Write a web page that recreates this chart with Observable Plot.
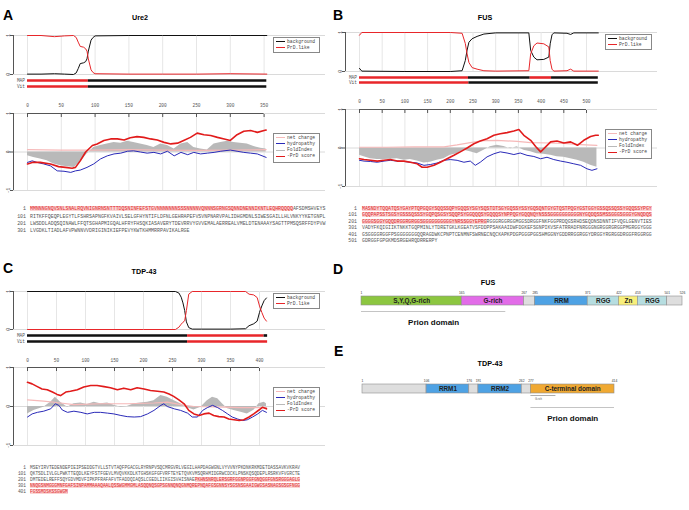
<!DOCTYPE html>
<html><head><meta charset="utf-8">
<script src="https://cdn.jsdelivr.net/npm/d3@7"></script>
<script src="https://cdn.jsdelivr.net/npm/@observablehq/plot@0.6"></script>
<style>
html,body{margin:0;padding:0;background:#fff;}
#root{position:relative;width:689px;height:510px;overflow:hidden;background:#fff;}
.seq{position:absolute;white-space:pre;font-family:"Liberation Mono","DejaVu Sans Mono",monospace;color:#555;}
.seq .core{color:#e02a2a;background:#fbd3d3;}
.lg{position:absolute;border:1px solid #888;background:#fff;box-sizing:border-box;}
.lg .t{position:absolute;white-space:pre;font-family:"Liberation Mono","DejaVu Sans Mono",monospace;color:#444;}
.lg .s{position:absolute;}
</style></head>
<body><div id="root"></div>
<script>
// ---------------- DATA ----------------
// Ure2
const ure2Seq = "MMNNNGNQVSNLSNALRQVNIGNRNSNTTTDQSNINFEFSTGVNNNNNNNSSSNNNNVQNNNSGRNGSQNNDNENNIKNTLEQHRQQQQAFSDMSHVEYSRITKFFQEQPLEGYTLFSHRSAPNGFKVAIVLSELGFHYNTIFLDFNLGEHRAPEFVSVNPNARVPALIDHGMDNLSIWESGAILLHLVNKYYKETGNPLLWSDDLADQSQINAWLFFQTSGHAPMIGQALHFRYFHSQKIASAVERYTDEVRRVYGVVEMALAERREALVMELDTENAAAYSAGTTPMSQSRFFDYPVWLVGDKLTIADLAFVPWNNVVDRIGINIKIEFPEVYKWTKHMMRRPAVIKALRGE";
const ure2Core = [1, 89];
const ure2Ticks = [0, 50, 100, 150, 200, 250, 300, 350];
const ure2TopPos = [0, 20, 40, 55, 68, 72, 75, 78, 83, 86, 88, 90, 94, 97, 100, 150, 200, 250, 300, 354];
const ure2PrdLike = [1, 1, 0.97, 0.99, 1, 0.95, 0.83, 0.72, 0.7, 0.66, 0.6, 0.4, 0.12, 0.05, 0.02, 0.01, 0.01, 0.01, 0.02, 0.01];
const ure2Background = [0.01, 0.01, 0.02, 0.01, 0, 0.04, 0.15, 0.28, 0.3, 0.33, 0.4, 0.6, 0.88, 0.95, 0.99, 1, 1, 1, 1, 1];
const ure2TrackName = ["MAP", "MAP", "Vit", "Vit"];
const ure2TrackStart = [0, 90, 0, 90];
const ure2TrackEnd = [90, 354, 90, 354];
const ure2TrackState = ["PrD", "bg", "PrD", "bg"];
const ure2PrdPos = [0,7,19,34,46,56,66,71,78,86,96,103,113,123,133,143,152,162,172,182,192,202,212,222,231,241,251,261,271,281,291,300,310,320,330,340,350,353];
const ure2Prd = [-0.31,-0.27,-0.27,-0.31,-0.38,-0.40,-0.42,-0.40,-0.23,0,0.17,0.21,0.30,0.34,0.34,0.31,0.37,0.40,0.38,0.34,0.31,0.25,0.21,0.23,0.30,0.38,0.49,0.45,0.43,0.38,0.34,0.30,0.45,0.54,0.56,0.51,0.56,0.57];
const ure2HydPos = [0,7,14,24,34,44,54,64,71,78,88,98,108,118,128,138,148,157,167,177,187,197,207,217,227,237,246,256,266,276,286,300,310,320,330,340,353];
const ure2Hyd = [-0.27,-0.23,-0.27,-0.31,-0.36,-0.49,-0.50,-0.53,-0.49,-0.47,-0.40,-0.31,-0.18,-0.10,-0.05,-0.03,0.02,0.03,0,-0.03,-0.01,-0.05,0.02,-0.10,-0.01,-0.07,-0.01,-0.05,-0.03,-0.01,0.02,0.05,0.02,-0.01,-0.03,-0.05,-0.14];
const ure2FoldPos = [0,9,19,29,39,49,59,69,78,88,98,108,118,128,138,148,157,167,177,187,197,207,217,227,237,246,256,266,276,286,296,305,315,325,335,345,353];
const ure2Fold = [-0.10,-0.14,-0.18,-0.23,-0.31,-0.36,-0.38,-0.40,-0.27,-0.05,0.12,0.17,0.21,0.25,0.23,0.28,0.25,0.21,0.17,0.12,0.21,0.17,0.08,0.21,0.25,0.12,0.08,0.05,0.21,0.25,0.28,0.25,0.23,0.21,0.14,0.10,0.08];
const ure2NetPos = [0, 50, 100, 150, 200, 250, 300, 353];
const ure2Net = [0.06, 0.05, 0.05, 0.06, 0.05, 0.04, 0.05, 0.06];

// FUS
const fusSeq = "MASNDYTQQATQSYGAYPTQPGQGYSQQSSQPYGQQSYSGYSQSTDTSGYGQSSYSSYGQSQNTGYGTQSTPQGYGSTGGYGSSQSSQSSYGQQSSYPGYGQQPAPSSTSGSYGSSSQSSSYGQPQSGSYSQQPSYGGQQQSYGQQQSYNPPQGYGQQNQYNSSSGGGGGGGGGGNYGQDQSSMSSGGGSGGGYGNQDQSGGGGSGGYGQQDRGGRGRGGSGGGGGGGGGGYNRSSGGYEPRGRGGGRGGRGGMGGSDRGGFNKFGGPRDQGSRHDSEQDNSDNNTIFVQGLGENVTIESVADYFKQIGIIKTNKKTGQPMINLYTDRETGKLKGEATVSFDDPPSAKAAIDWFDGKEFSGNPIKVSFATRRADFNRGGGNGRGGRGRGGPMGRGGYGGGGSGGGGRGGFPSGGGGGGGQQRAGDWKCPNPTCENMNFSWRNECNQCKAPKPDGPGGGPGGSHMGGNYGDDRRGGRGGYDRGGYRGRGGDRGGFRGGRGGGDRGGFGPGKMDSRGEHRQDRRERPY";
const fusCore = [1, 243];
const fusTicks = [0, 50, 100, 150, 200, 250, 300, 350, 400, 450, 500];
const fusTopPos = [0, 5, 100, 200, 226, 233, 237, 241, 248, 259, 274, 300, 373, 377, 384, 391, 406, 417, 420, 424, 428, 457, 465, 472, 526];
const fusPrdLike = [0.93, 1, 1, 1, 0.98, 0.72, 0.45, 0.23, 0.1, 0.06, 0.02, 0.01, 0.02, 0.45, 0.66, 0.73, 0.71, 0.63, 0.28, 0.06, 0.01, 0.02, 0.06, 0.01, 0.01];
const fusBackground = [0.08, 0.01, 0, 0, 0.02, 0.28, 0.55, 0.75, 0.84, 0.9, 0.96, 0.99, 0.99, 0.54, 0.37, 0.3, 0.31, 0.37, 0.71, 0.94, 0.99, 0.98, 0.95, 0.99, 0.99];
const fusTrackName = ["MAP", "MAP", "MAP", "MAP", "Vit", "Vit"];
const fusTrackStart = [0, 240, 376, 423, 0, 241];
const fusTrackEnd = [240, 376, 423, 526, 241, 526];
const fusTrackState = ["PrD", "bg", "PrD", "bg", "PrD", "bg"];
const fusPrdPos = [0,10,24,39,54,68,83,98,112,127,138,149,164,178,193,208,222,237,252,266,281,296,310,325,340,351,362,377,388,399,410,421,435,450,465,480,494,509,520,526];
const fusPrd = [-0.28,-0.30,-0.32,-0.34,-0.32,-0.30,-0.34,-0.34,-0.37,-0.41,-0.50,-0.50,-0.45,-0.37,-0.28,-0.19,-0.10,0,0.11,0.18,0.24,0.33,0.37,0.40,0.44,0.48,0.33,0.20,0.04,-0.10,0.03,0.16,0.18,0.13,0.16,0.07,0.20,0.30,0.33,0.33];
const fusHydPos = [0,10,24,39,54,68,83,98,112,127,142,156,171,186,200,215,230,244,255,266,281,296,310,325,340,354,369,384,399,413,428,443,457,472,487,501,512,523];
const fusHyd = [-0.32,-0.34,-0.35,-0.37,-0.34,-0.32,-0.34,-0.35,-0.37,-0.39,-0.45,-0.43,-0.39,-0.32,-0.30,-0.32,-0.37,-0.34,-0.45,-0.37,-0.23,-0.15,-0.10,-0.13,-0.17,-0.13,-0.19,-0.22,-0.28,-0.24,-0.30,-0.34,-0.37,-0.41,-0.45,-0.54,-0.58,-0.54];
const fusFoldPos = [0,10,24,39,54,68,83,98,112,127,142,156,171,186,200,215,230,244,259,274,288,303,318,333,347,362,377,391,406,421,435,450,465,480,494,509,523];
const fusFold = [-0.19,-0.23,-0.28,-0.30,-0.30,-0.29,-0.28,-0.32,-0.30,-0.34,-0.39,-0.37,-0.32,-0.28,-0.19,-0.15,-0.06,-0.10,-0.15,-0.06,0.03,0.07,0.04,-0.02,0.03,-0.06,-0.10,-0.15,-0.16,-0.19,-0.23,-0.24,-0.28,-0.32,-0.37,-0.45,-0.50];
const fusNetPos = [0, 60, 120, 186, 215, 244, 274, 303, 347, 377, 420, 450, 487, 523];
const fusNet = [0.02, 0.02, 0.03, 0.03, 0.08, 0.14, 0.19, 0.2, 0.17, 0.14, 0.13, 0.12, 0.09, 0.07];

// TDP-43
const tdpSeq = "MSEYIRVTEDENDEPIEIPSEDDGTVLLSTVTAQFPGACGLRYRNPVSQCMRGVRLVEGILHAPDAGWGNLVYVVNYPKDNKRKMDETDASSAVKVKRAVQKTSDLIVLGLPWKTTEQDLKEYFSTFGEVLMVQVKKDLKTGHSKGFGFVRFTEYETQVKVMSQRHMIDGRWCDCKLPNSKQSQDEPLRSRKVFVGRCTEDMTEDELREFFSQYGDVMDVFIPKPFRAFAFVTFADDQIAQSLCGEDLIIKGISVHISNAEPKHNSNRQLERSGRFGGNPGGFGNQGGFGNSRGGGAGLGNNQGSNMGGGMNFGAFSINPAMMAAAQAALQSSWGMMGMLASQQNQSGPSGNNQNQGNMQREPNQAFGSGNNSYSGSNSGAAIGWGSASNAGSGSGFNGGFGSSMDSKSSGWGM";
const tdpCore = [262, 414];
const tdpTicks = [0, 50, 100, 150, 200, 250, 300, 350, 400];
const tdpTopPos = [0, 100, 200, 255, 261, 265, 268, 271, 274, 278, 284, 300, 350, 376, 382, 390, 396, 400, 404, 408, 412];
const tdpPrdLike = [0, 0, 0, 0, 0.06, 0.14, 0.19, 0.23, 0.5, 0.93, 1, 1, 1, 1, 0.93, 0.91, 0.84, 0.62, 0.45, 0.3, 0.22];
const tdpBackground = [1, 1, 1, 1, 0.96, 0.85, 0.7, 0.5, 0.2, 0.05, 0.01, 0.01, 0.01, 0.02, 0.1, 0.15, 0.22, 0.45, 0.62, 0.76, 0.83];
const tdpTrackName = ["MAP", "MAP", "MAP", "Vit", "Vit"];
const tdpTrackStart = [0, 276, 408, 0, 276];
const tdpTrackEnd = [276, 408, 414, 276, 414];
const tdpTrackState = ["bg", "PrD", "bg", "bg", "PrD"];
const tdpPrdPos = [0,8,17,25,34,43,51,57,66,74,86,97,109,120,132,143,155,166,178,189,201,212,224,235,244,252,261,270,278,287,296,304,313,321,330,339,347,356,365,373,382,390,399,405,412];
const tdpPrd = [0.62,0.58,0.51,0.45,0.43,0.37,0.31,0.28,0.37,0.39,0.43,0.50,0.54,0.54,0.51,0.48,0.43,0.47,0.43,0.48,0.45,0.41,0.39,0.37,0.32,0.26,0.17,0.07,-0.10,-0.19,-0.23,-0.19,-0.17,-0.23,-0.26,-0.27,-0.32,-0.34,-0.36,-0.34,-0.27,-0.19,-0.09,-0.02,-0.06];
const tdpHydPos = [0,8,17,28,40,48,54,60,69,80,92,103,115,126,138,149,161,172,184,195,207,218,230,235,241,253,264,276,284,293,302,310,319,328,336,345,353,362,371,379,388,397,405,412];
const tdpHyd = [-0.27,-0.19,-0.15,-0.12,-0.06,0.07,0.03,-0.09,-0.15,-0.12,-0.15,-0.19,-0.15,-0.15,-0.17,-0.19,-0.23,-0.26,-0.27,-0.26,-0.19,-0.10,0.03,0.07,0,-0.06,-0.10,-0.17,-0.27,-0.27,-0.10,-0.03,0.03,-0.03,-0.10,-0.19,-0.27,-0.32,-0.36,-0.34,-0.27,-0.19,-0.10,-0.15];
const tdpFoldPos = [0,11,28,40,48,57,69,80,92,103,115,126,138,149,161,172,184,195,207,218,230,241,253,264,276,287,299,310,319,328,336,345,356,368,379,391,399,408,412];
const tdpFold = [-0.19,-0.1,-0.02,0.11,0.24,0.11,-0.02,0.07,0.09,0.05,0.11,0.07,0.09,0.03,-0.02,0,0.07,0.09,0.11,0.15,0.28,0.24,0.15,0.07,-0.03,-0.09,-0.02,0.15,0.24,0.2,0.07,-0.06,-0.1,-0.15,-0.19,-0.09,0.07,0.11,0.07];
const tdpNetPos = [0, 28, 57, 80, 126, 172, 218, 241, 264, 287, 322, 368, 412];
const tdpNet = [0.17, 0.14, 0.09, 0.05, 0.07, 0.07, 0.09, 0.11, 0.05, 0.0, -0.01, -0.03, -0.03];

// Domain diagrams
const fusDomName = ["S,Y,Q,G-rich", "G-rich", "", "RRM", "RGG", "Zn", "RGG", ""];
const fusDomType = ["SYQG", "Grich", "linker", "RRM", "RGG", "Zn", "RGG", "linker"];
const fusDomStart = [1, 165, 267, 285, 371, 422, 453, 501];
const fusDomEnd = [165, 267, 285, 371, 422, 453, 501, 526];
const fusDomTicks = [1, 165, 267, 285, 371, 422, 453, 501, 526];
const fusPrion = [1, 237];
const tdpDomName = ["", "RRM1", "", "RRM2", "", "C-terminal domain"];
const tdpDomType = ["linker", "RRM", "linker", "RRM", "linker", "Cterm"];
const tdpDomStart = [1, 106, 176, 191, 262, 277];
const tdpDomEnd = [106, 176, 191, 262, 277, 414];
const tdpDomTicks = [1, 106, 176, 191, 262, 277, 414];
const tdpGrich = [277, 318];
const tdpPrion = [277, 414];

const domTypes = ["SYQG", "Grich", "linker", "RRM", "RGG", "Zn", "Cterm"];
const domColors = ["#8cc640", "#e26ce8", "#dedede", "#4ea2e4", "#b6dde0", "#f8ef7b", "#f0a932"];

// ---------------- HELPERS ----------------
const mono = "'Liberation Mono','DejaVu Sans Mono',monospace";
const sans = "'Liberation Sans',Arial,Helvetica,sans-serif";
const RED = "#e8262a";
const root = document.getElementById("root");
function put(el, left, top) { el.style.position = "absolute"; el.style.left = left + "px"; el.style.top = top + "px"; root.appendChild(el); return el; }
const zip = (p, v) => p.map((x, i) => ({pos: x, val: v[i]}));
const tracks = (n, s, e, st) => n.map((t, i) => ({track: t, start: s[i], end: e[i], state: st[i]}));

const overlay = d3.create("svg").attr("width", 689).attr("height", 510)
  .style("position", "absolute").style("left", "0px").style("top", "0px").style("pointer-events", "none");
function label(str, x, y, size, opts = {}) {
  overlay.append("text").attr("x", x).attr("y", y).attr("font-size", size)
    .attr("font-family", opts.family || sans).attr("font-weight", opts.weight || "bold")
    .attr("text-anchor", opts.anchor || "start").attr("fill", opts.fill || "#000").text(str);
}

function legend(left, top, w, h, entries, first, step) {
  const d = document.createElement("div"); d.className = "lg";
  d.style.width = w + "px"; d.style.height = h + "px";
  entries.forEach((e, i) => {
    const cy = first + i * step;
    const s = document.createElement("div"); s.className = "s";
    s.style.left = "2px"; s.style.top = (cy - e.lw / 2 - 1) + "px"; s.style.width = "9px"; s.style.height = e.lw + "px"; s.style.background = e.color;
    d.appendChild(s);
    const t = document.createElement("div"); t.className = "t";
    t.style.left = "13px"; t.style.top = (cy - 4) + "px"; t.style.fontSize = "4.7px"; t.style.lineHeight = "6px"; t.textContent = e.label;
    d.appendChild(t);
  });
  put(d, left, top);
}

function seqBlock(seq, core, labelRight, startX, firstCenter, step, charW) {
  const fs = charW / 0.6;
  for (let i = 0; i * 100 < seq.length; i++) {
    const a = i * 100 + 1, line = seq.slice(i * 100, i * 100 + 100);
    const lab = document.createElement("div"); lab.className = "seq";
    lab.style.fontSize = fs + "px"; lab.style.lineHeight = step + "px"; lab.style.width = "20px"; lab.style.textAlign = "right";
    lab.textContent = String(a);
    put(lab, labelRight - 20, firstCenter + i * step - step / 2);
    const d = document.createElement("div"); d.className = "seq";
    d.style.fontSize = fs + "px"; d.style.lineHeight = step + "px";
    let html = "", cur = null, buf = "";
    for (let j = 0; j < line.length; j++) {
      const r = a + j, inCore = r >= core[0] && r <= core[1];
      if (inCore !== cur && buf) { html += cur ? `<span class="core">${buf}</span>` : buf; buf = ""; }
      cur = inCore; buf += line[j];
    }
    if (buf) html += cur ? `<span class="core">${buf}</span>` : buf;
    d.innerHTML = html;
    put(d, startX, firstCenter + i * step - step / 2);
  }
}

function panel(p) {
  const PW = 330;
  const fl = p.ax - p.L, fr = fl + 312;
  const xr = [p.x0 - p.L, p.x0 - p.L + p.k * p.len];
  const baseStyle = {fontFamily: mono, fontSize: "4.5px", color: "#555", background: "transparent", overflow: "visible"};

  // top posterior plot
  {
    const T = p.yT1 - 6, h = p.yT0 - T + 4;
    const svg = Plot.plot({
      width: PW, height: h, marginLeft: fl, marginRight: PW - fr, marginTop: p.yT1 - T, marginBottom: h - (p.yT0 - T),
      x: {domain: [0, p.len], range: xr, axis: null},
      y: {domain: [0, 1], range: [p.yT0 - T, p.yT1 - T], axis: null},
      style: baseStyle,
      marks: [
        Plot.gridY({ticks: [0, 1], stroke: "#dadada", strokeOpacity: 1}),
        Plot.gridX({ticks: p.ticks, stroke: "#e6e6e6", strokeOpacity: 1}),
        Plot.ruleX([0], {y1: 0, y2: 1, dx: p.ax - p.x0, stroke: "#555"}),
        Plot.axisY({ticks: [0, 1], label: null, tickSize: 3, tickPadding: 1, tickRotate: -90, fontSize: 4.5, tickFormat: d => String(d)}),
        Plot.line(zip(p.topPos, p.background), {x: "pos", y: "val", stroke: "#111", strokeWidth: 1}),
        Plot.line(zip(p.topPos, p.prdLike), {x: "pos", y: "val", stroke: RED, strokeWidth: 1})
      ]
    });
    put(svg, p.L, T);
  }
  // MAP / Vit tracks
  {
    const T = p.yMap - 4, h = p.yVit - p.yMap + 8;
    const svg = Plot.plot({
      width: PW, height: h, marginLeft: p.x0 - p.L - 1, marginRight: 10, marginTop: 0, marginBottom: 0,
      x: {domain: [0, p.len], range: xr, axis: null},
      y: {type: "point", domain: ["MAP", "Vit"], range: [4, 4 + p.yVit - p.yMap], padding: 0, axis: null},
      color: {domain: ["PrD", "bg"], range: [RED, "#111"]},
      style: baseStyle,
      marks: [
        Plot.axisY({label: null, tickSize: 0, tickPadding: 1.5, fontSize: 4.5}),
        Plot.ruleY(tracks(p.trackName, p.trackStart, p.trackEnd, p.trackState), {y: "track", x1: "start", x2: "end", stroke: "state", strokeWidth: 2.6})
      ]
    });
    put(svg, p.L, T);
  }
  // lower profiles
  {
    const T = p.yTick - 6, h = p.yLm1 - T + 4;
    const svg = Plot.plot({
      width: PW, height: h, marginLeft: fl, marginRight: PW - fr, marginTop: p.yL1 - T, marginBottom: h - (p.yLm1 - T),
      x: {domain: [0, p.len], range: xr, axis: null},
      y: {domain: [-1, 1], range: [p.yLm1 - T, p.yL1 - T], axis: null},
      style: baseStyle,
      marks: [
        Plot.gridY({ticks: [-1, 0, 1], stroke: "#dadada", strokeOpacity: 1}),
        Plot.gridX({ticks: p.ticks, stroke: "#e6e6e6", strokeOpacity: 1}),
        Plot.areaY(zip(p.foldPos, p.fold), {x: "pos", y: "val", fill: "#b9b9b9"}),
        Plot.line(zip(p.netPos, p.net), {x: "pos", y: "val", stroke: "#f6b9b9", strokeWidth: 1.2}),
        Plot.line(zip(p.hydPos, p.hyd), {x: "pos", y: "val", stroke: "#2a2ab8", strokeWidth: 1}),
        Plot.line(zip(p.prdPos, p.prd), {x: "pos", y: "val", stroke: "#e11b1b", strokeWidth: 1.6}),
        Plot.ruleY([1], {x1: 0, x2: p.ticks[p.ticks.length - 1], stroke: "#555"}),
        Plot.axisX({anchor: "top", label: null, ticks: p.ticks, tickSize: -3, tickPadding: p.yL1 - p.yTick + 1, fontSize: 4.5, tickFormat: d => String(d)}),
        Plot.ruleX([0], {y1: -1, y2: 1, dx: p.ax - p.x0, stroke: "#555"}),
        Plot.axisY({ticks: [-1, 0, 1], label: null, tickSize: 3, tickPadding: 1, tickRotate: -90, fontSize: 4.5, tickFormat: d => String(d)})
      ]
    });
    put(svg, p.L, T);
  }
  legend(p.x0 + 246, p.yT1 + 2, 47, 16, [
    {label: "background", color: "#111", lw: 1.2},
    {label: "PrD.like", color: RED, lw: 1.2}
  ], 4.5, 6);
  legend(p.x0 + 246, p.yL1 + 19.5, 47, 30, [
    {label: "net charge", color: "#f6b9b9", lw: 1.2},
    {label: "hydropathy", color: "#2a2ab8", lw: 1.2},
    {label: "FoldIndex", color: "#b9b9b9", lw: 1.2},
    {label: "-PrD score", color: "#e11b1b", lw: 1.6}
  ], 5, 6.3);
  seqBlock(p.seq, p.core, p.seqLabelRight, p.seqX, p.seqTop, p.seqStep, p.charW);
  label(p.letter, p.L + p.letterX, p.letterY, 14);
  label(p.title, p.titleX, p.titleY, 7.2, {anchor: "middle"});
}

panel({letter: "A", title: "Ure2", L: 0, letterX: 3, letterY: 20, titleX: 140, titleY: 20,
  ax: 13, x0: 27, k: 0.676, len: 354, ticks: ure2Ticks,
  yT1: 35, yT0: 74, yMap: 80, yVit: 86, yTick: 104, yL1: 113, yLm1: 190,
  topPos: ure2TopPos, prdLike: ure2PrdLike, background: ure2Background,
  trackName: ure2TrackName, trackStart: ure2TrackStart, trackEnd: ure2TrackEnd, trackState: ure2TrackState,
  prdPos: ure2PrdPos, prd: ure2Prd, hydPos: ure2HydPos, hyd: ure2Hyd, foldPos: ure2FoldPos, fold: ure2Fold, netPos: ure2NetPos, net: ure2Net,
  seq: ure2Seq, core: ure2Core, seqLabelRight: 26, seqX: 30, seqTop: 209, seqStep: 7.3, charW: 2.96});

panel({letter: "B", title: "FUS", L: 330, letterX: 3, letterY: 20, titleX: 485, titleY: 20,
  ax: 345, x0: 359, k: 0.454, len: 526, ticks: fusTicks,
  yT1: 32, yT0: 71, yMap: 77, yVit: 82, yTick: 100, yL1: 109, yLm1: 186,
  topPos: fusTopPos, prdLike: fusPrdLike, background: fusBackground,
  trackName: fusTrackName, trackStart: fusTrackStart, trackEnd: fusTrackEnd, trackState: fusTrackState,
  prdPos: fusPrdPos, prd: fusPrd, hydPos: fusHydPos, hyd: fusHyd, foldPos: fusFoldPos, fold: fusFold, netPos: fusNetPos, net: fusNet,
  seq: fusSeq, core: fusCore, seqLabelRight: 357, seqX: 362, seqTop: 209, seqStep: 6.5, charW: 2.9});

panel({letter: "C", title: "TDP-43", L: 0, letterX: 3, letterY: 273, titleX: 144, titleY: 274,
  ax: 13, x0: 27, k: 0.58, len: 414, ticks: tdpTicks,
  yT1: 291, yT0: 329, yMap: 335, yVit: 341, yTick: 359, yL1: 367, yLm1: 445,
  topPos: tdpTopPos, prdLike: tdpPrdLike, background: tdpBackground,
  trackName: tdpTrackName, trackStart: tdpTrackStart, trackEnd: tdpTrackEnd, trackState: tdpTrackState,
  prdPos: tdpPrdPos, prd: tdpPrd, hydPos: tdpHydPos, hyd: tdpHyd, foldPos: tdpFoldPos, fold: tdpFold, netPos: tdpNetPos, net: tdpNet,
  seq: tdpSeq, core: tdpCore, seqLabelRight: 26, seqX: 30, seqTop: 468, seqStep: 6, charW: 2.7});

// ---------------- DOMAIN DIAGRAMS (D, E) ----------------
function domainPlot(cfg) {
  const doms = cfg.name.map((n, i) => ({name: n, type: cfg.type[i], start: cfg.start[i], end: cfg.end[i]}));
  const T = cfg.barTop - 10, h = 44;
  const marks = [
    Plot.rect(doms, {x1: "start", x2: "end", y1: 0, y2: 1, fill: "type", stroke: "#8e8e8e", strokeWidth: 0.6}),
    Plot.text(doms, {x: d => (d.start + d.end) / 2, y: 0.5, text: "name", fontSize: 6.4, fontWeight: "bold", fill: "#222"}),
    Plot.text(cfg.ticks, {x: d => d, y: 1, dy: -3.2, text: d => String(d), fontSize: 3.3, fill: "#333"}),
    Plot.ruleY([0], {x1: cfg.prion[0], x2: cfg.prion[1], dy: cfg.prionDy, stroke: "#c4c4c4", strokeWidth: 1}),
    Plot.text(["Prion domain"], {x: (cfg.prion[0] + cfg.prion[1]) / 2, y: 0, dy: cfg.prionDy + 11, fontSize: 8, fontWeight: "bold", fill: "#111"})
  ];
  if (cfg.grich) {
    marks.push(Plot.ruleY([0], {x1: cfg.grich[0], x2: cfg.grich[1], dy: 2, stroke: "#999", strokeWidth: 0.8}));
    marks.push(Plot.text(["G-rich"], {x: cfg.grich[0], y: 0, dy: 5.5, dx: 4, textAnchor: "start", fontSize: 2.6, fill: "#555"}));
  }
  const svg = Plot.plot({
    width: 359, height: h, margin: 0,
    x: {domain: [1, cfg.len], range: [cfg.xs - 330, cfg.xe - 330], axis: null},
    y: {domain: [0, 1], range: [cfg.barBot - T, cfg.barTop - T], axis: null},
    color: {domain: domTypes, range: domColors},
    style: {fontFamily: sans, background: "transparent", overflow: "visible"},
    marks
  });
  put(svg, 330, T);
}
domainPlot({name: fusDomName, type: fusDomType, start: fusDomStart, end: fusDomEnd, ticks: fusDomTicks, prion: fusPrion,
  len: 526, xs: 361, xe: 682, barTop: 296, barBot: 305, prionDy: 6});
domainPlot({name: tdpDomName, type: tdpDomType, start: tdpDomStart, end: tdpDomEnd, ticks: tdpDomTicks, prion: tdpPrion, grich: tdpGrich,
  len: 414, xs: 362, xe: 614, barTop: 384, barBot: 393, prionDy: 14});

label("D", 333, 274, 14);
label("FUS", 488, 285, 7.2, {anchor: "middle"});
label("E", 334, 356, 14);
label("TDP-43", 490, 366, 7.2, {anchor: "middle"});

root.appendChild(overlay.node());
</script>
</body></html>
